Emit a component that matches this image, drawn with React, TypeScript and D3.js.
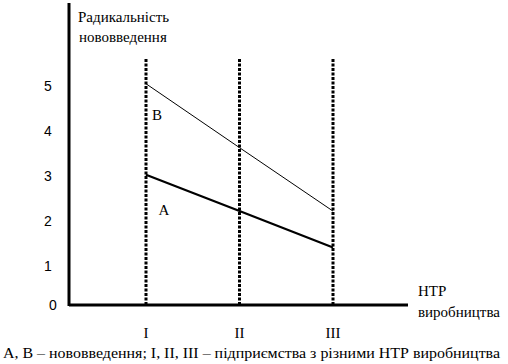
import React from 'react';
import * as d3 from 'd3';

const firms = ['I', 'II', 'III'];
const seriesA = [3.03, 2.22, 1.41];
const seriesB = [5.05, 3.63, 2.22];
const yTicks = [1, 2, 3, 4, 5];

const W = 508;
const H = 364;
const serif = '"Liberation Serif", "Times New Roman", serif';
const sans = '"Liberation Sans", Arial, sans-serif';

export default function App() {
    const x = d3.scalePoint<string>().domain(firms).range([146, 333]);
    const y = d3.scaleLinear().domain([0, 5]).range([311, 86]);
    const axisX0 = 69;
    const axisY = 305;

    const line = d3.line<number>()
        .x((_, i) => x(firms[i]) as number)
        .y(d => y(d));

    return (
        <svg width={W} height={H} style={{ position: 'absolute', left: 0, top: 0, background: '#fff' }}>
            {/* axes */}
            <line x1={axisX0} x2={axisX0} y1={3} y2={axisY + 1} stroke="#000" strokeWidth={3} />
            <line x1={axisX0} x2={408} y1={axisY} y2={axisY} stroke="#000" strokeWidth={3} />

            {/* y tick labels */}
            {yTicks.map(t => (
                <text key={t} x={48} y={y(t)} dy="0.35em" textAnchor="middle" fontFamily={sans} fontSize={14}>{t}</text>
            ))}
            <text x={53} y={axisY} dy="0.35em" textAnchor="middle" fontFamily={sans} fontSize={14}>0</text>

            {/* firm verticals */}
            {firms.map(f => (
                <g key={f}>
                    <line x1={x(f)} x2={x(f)} y1={59} y2={axisY + 1} stroke="#000" strokeWidth={3} strokeDasharray="3 1.5" />
                    <text x={x(f)} y={338} textAnchor="middle" fontFamily={serif} fontSize={15}>{f}</text>
                </g>
            ))}

            {/* series */}
            <path d={line(seriesB) ?? ''} fill="none" stroke="#000" strokeWidth={1} />
            <path d={line(seriesA) ?? ''} fill="none" stroke="#000" strokeWidth={2.2} />
            <text x={157} y={120} textAnchor="middle" fontFamily={serif} fontSize={15}>В</text>
            <text x={164} y={215} textAnchor="middle" fontFamily={serif} fontSize={15}>А</text>

            {/* axis titles */}
            <text x={78} y={22} fontFamily={serif} fontSize={15}>Радикальність</text>
            <text x={79} y={42} fontFamily={serif} fontSize={15}>нововведення</text>
            <text x={418} y={296} fontFamily={serif} fontSize={15}>НТР</text>
            <text x={418} y={317} fontFamily={serif} fontSize={15}>виробництва</text>

            {/* caption */}
            <text x={3} y={358} fontFamily={serif} fontSize={15} textLength={497} lengthAdjust="spacingAndGlyphs">
                А, В – нововведення; І, ІІ, ІІІ – підприємства з різними НТР виробництва
            </text>
        </svg>
    );
}
